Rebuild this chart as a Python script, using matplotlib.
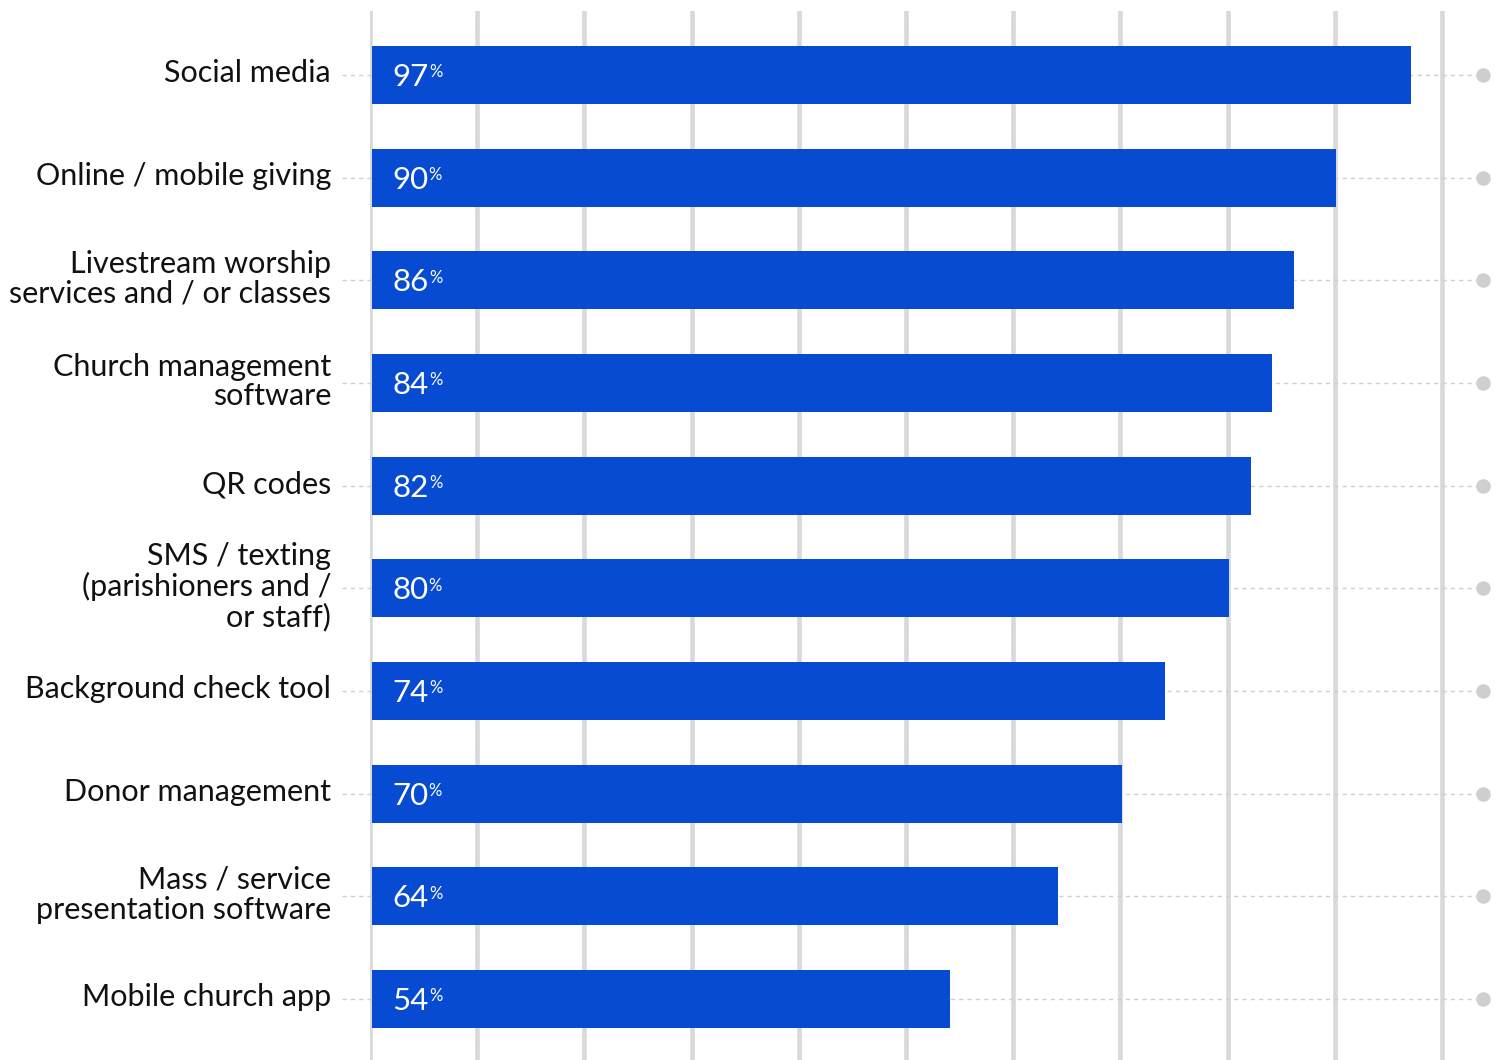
import matplotlib.pyplot as plt

categories = [
    "Social media",
    "Online / mobile giving",
    "Livestream worship\nservices and / or classes",
    "Church management\nsoftware",
    "QR codes",
    "SMS / texting\n(parishioners and /\nor staff)",
    "Background check tool",
    "Donor management",
    "Mass / service\npresentation software",
    "Mobile church app",
]
values = [97, 90, 86, 84, 82, 80, 74, 70, 64, 54]

BLUE = "#064BD2"
GRID = "#d9d9d9"

plt.rcParams["font.family"] = ["Lato", "DejaVu Sans"]

fig = plt.figure(figsize=(15.06, 10.6), dpi=100)
# 0% sits at x=370px, 100% at x=1442px
px = 10.72
ax = fig.add_axes([370 / 1506, 0, 1 - 370 / 1506, 1049 / 1060])
ax.set_xlim(0, (1506 - 370) / px)
ax.set_ylim(len(categories) - 1 + 0.594, -0.623)
ax.axis("off")

for g in range(0, 101, 10):
    ax.axvline(g, color=GRID, linewidth=3.3, zorder=0)

dot_x = (1483 - 370) / px
label_x = (331 - 370) / px
line_start = (342 - 370) / px

for i, (cat, v) in enumerate(zip(categories, values)):
    ax.plot([line_start, dot_x], [i, i], color="#cfcfcf", linewidth=1,
            linestyle=(0, (3, 3)), zorder=1, clip_on=False)
    ax.scatter([dot_x], [i], s=110, color="#cfcfcf", zorder=2, clip_on=False,
               linewidths=0)
    ax.barh(i, v, height=0.565, left=0.15, color=BLUE, zorder=3)
    ax.text(label_x, i - 0.015, cat, ha="right", va="center", fontsize=22,
            color="#111111", linespacing=1.07)
    t = ax.text(2.1, i + 0.02, str(v), ha="left", va="center", fontsize=22.5,
                color="white", zorder=4)
    ax.annotate("%", xy=(1, 1), xycoords=t, xytext=(0, -1),
                textcoords="offset points", ha="left", va="top",
                fontsize=12, color="white", zorder=4)

fig.savefig("out.png", dpi=100)
